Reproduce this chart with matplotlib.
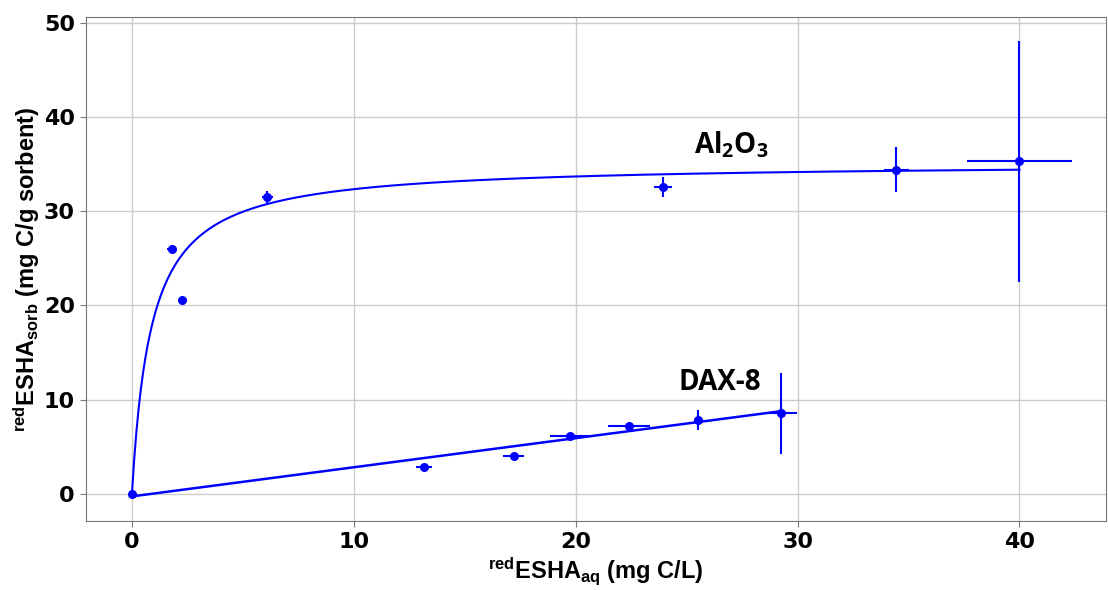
import numpy as np
import matplotlib
matplotlib.use("Agg")
import matplotlib.pyplot as plt

# Al2O3 data
al_x = [0.0, 1.80, 2.25, 6.09, 23.95, 34.45, 40.0]
al_y = [0.0, 26.0, 20.6, 31.5, 32.6, 34.4, 35.3]
al_xerr = [0.0, 0.2, 0.1, 0.25, 0.4, 0.55, 2.35]
al_yerr = [0.0, 0.4, 0.2, 0.6, 1.05, 2.4, 12.8]

# DAX-8 data
dax_x = [13.17, 17.2, 19.75, 22.4, 25.5, 29.27]
dax_y = [2.9, 4.06, 6.15, 7.2, 7.85, 8.56]
dax_xerr = [0.35, 0.47, 0.9, 0.93, 0.15, 0.7]
dax_yerr = [0.15, 0.1, 0.1, 0.25, 1.06, 4.3]

# Fit parameters
lang_qmax, lang_k = 35.15, 1.15
lin_slope, lin_icpt = 0.309, -0.25

xticks = [0, 10, 20, 30, 40]
yticks = [0, 10, 20, 30, 40, 50]

plt.rcParams['mathtext.fontset'] = 'custom'
plt.rcParams['mathtext.rm'] = 'Liberation Sans:bold'
plt.rcParams['mathtext.bf'] = 'Liberation Sans:bold'
plt.rcParams['mathtext.it'] = 'Liberation Sans:bold'
plt.rcParams['mathtext.default'] = 'regular'

blue = "#0000ff"
fig = plt.figure(figsize=(11.08, 5.9), dpi=100)
ax = fig.add_axes([86/1108, 1-521/590, (1106-86)/1108, (521-17)/590])

xf = np.linspace(0, 40, 400)
ax.plot(xf, lang_qmax*lang_k*xf/(1+lang_k*xf), color=blue, lw=1.5, zorder=3)
xl = np.array([0, dax_x[-1]])
ax.plot(xl, lin_slope*xl + lin_icpt, color=blue, lw=1.8, zorder=3)

ax.errorbar(al_x, al_y, xerr=al_xerr, yerr=al_yerr, fmt='o', color=blue,
            ms=5.5, elinewidth=1.5, capsize=0, zorder=4)
ax.errorbar(dax_x, dax_y, xerr=dax_xerr, yerr=dax_yerr, fmt='o', color=blue,
            ms=5.5, elinewidth=1.5, capsize=0, zorder=4)

ax.set_xlim(-2.07, 43.9)
ax.set_ylim(-2.86, 50.6)
ax.set_xticks(xticks)
ax.set_yticks(yticks)
ax.grid(True, color="#cccccc", lw=1)
ax.set_axisbelow(True)
for s in ax.spines.values():
    s.set_color("#777777")
ax.tick_params(length=4, color="#777777", labelsize=16, pad=4)
for lab in ax.get_xticklabels() + ax.get_yticklabels():
    lab.set_fontweight("bold")
    lab.set_fontfamily("DejaVu Sans")

ax.set_xlabel(r"$^{red}$ESHA$_{aq}$ (mg C/L)", fontsize=17,
              fontweight="bold", family="Liberation Sans", labelpad=3)
ax.set_ylabel(r"$^{red}$ESHA$_{sorb}$ (mg C/g sorbent)", fontsize=17,
              fontweight="bold", family="Liberation Sans", labelpad=1)

ax.text(27.0, 37.0, r"Al$_{2}$O$_{3}$", fontsize=20, fontweight="bold",
        family="Open Sans", ha="center", va="center")
ax.text(26.5, 11.8, "DAX-8", fontsize=20, fontweight="bold",
        family="Open Sans", ha="center", va="center")

fig.savefig("out.png", dpi=100)
